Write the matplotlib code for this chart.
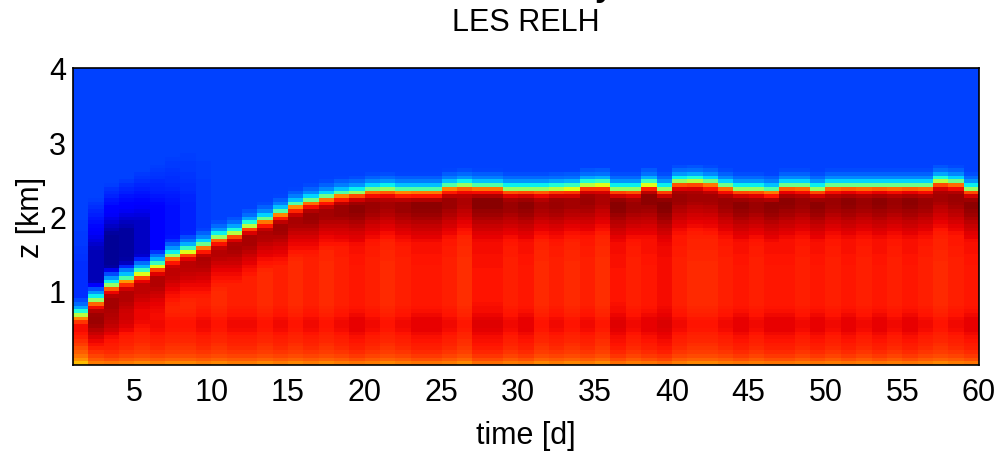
import numpy as np
import matplotlib
matplotlib.use('Agg')
import matplotlib.pyplot as plt

plt.rcParams['font.family'] = ['Liberation Sans', 'DejaVu Sans']

# time axis (days) and height grid (km)
day_edges = np.arange(1, 61)
z_edges = np.arange(0, 4.0001, 0.05)

# inversion height (km) for each day column
zi = [0.66, 0.85, 1.05, 1.13, 1.22, 1.32, 1.45, 1.52, 1.59, 1.70,
      1.76, 1.86, 1.94, 2.03, 2.13, 2.19, 2.24, 2.28, 2.30, 2.34,
      2.35, 2.33, 2.33, 2.33, 2.38, 2.40, 2.38, 2.38, 2.35, 2.35,
      2.35, 2.36, 2.37, 2.41, 2.42, 2.35, 2.35, 2.42, 2.35, 2.45,
      2.46, 2.44, 2.39, 2.35, 2.35, 2.33, 2.39, 2.39, 2.35, 2.39,
      2.39, 2.39, 2.39, 2.39, 2.39, 2.39, 2.46, 2.44, 2.35]

# minimum RH (%) of the dry layer just above the inversion
dry_min = [17, 5, 2, 3, 6, 11, 14, 16, 18] + [19] * 50

# column to column change of boundary layer RH (%)
bl_var = [-8, 0, 1, 0, -1, 0, -1, -1, 0, -1,
          0, 0, -1, 0, -1, 0, -1, 0, 1, 0,
          -1, 0, 1, 1, 0, -1.5, 1.5, 1.5, 0, 1,
          -1, 0, -1, 0, -1.5, 1.5, 0, 1, 2, 0,
          -1, -1, 0, 1, 0, 1, 1, 0, 1, 0,
          1, 0, 1, 0, 1, 0, -1, 0, 1]

# mean boundary layer profile: height (km) / RH (%)
bl_z = [0.0, 0.08, 0.15, 0.25, 0.4, 0.5, 0.6, 0.7, 0.85, 1.3, 1.7, 2.0, 4.0]
bl_rh = [76, 82, 85, 87, 88.5, 90, 90, 88.5, 87.5, 87.5, 88.5, 89.5, 89.5]

# cloud layer below the inversion: distance to inversion (km) / extra RH (%)
cld_d = [-0.7, -0.45, -0.25, -0.14, -0.08, -0.03, 0.0]
cld_rh = [0, 4, 8, 8, 3, -6, -14]

# inversion and dry free troposphere above it
inv_h = [0.0, 0.04, 0.09, 0.15, 0.25]
inv_rh = [64, 46, 32, 24]
ft_rh = 19
pocket_h = [0.05, 0.15, 0.3, 0.7, 1.0, 1.4]
pocket_w = [0, 0.7, 1, 1, 0.45, 0]

zc = 0.5 * (z_edges[1:] + z_edges[:-1])
rh = np.zeros((len(zc), len(zi)))
for j in range(len(zi)):
    d = zc - zi[j]
    ft = ft_rh - (ft_rh - dry_min[j]) * np.interp(d, pocket_h, pocket_w)
    below = np.interp(zc, bl_z, bl_rh) + bl_var[j] + np.interp(d, cld_d, cld_rh)
    above = np.empty_like(zc)
    for k in range(len(zc)):
        above[k] = np.interp(d[k], inv_h, inv_rh + [ft[k]])
    rh[:, j] = np.where(d < 0, below, above)

fig = plt.figure(figsize=(9.96, 4.6), dpi=100)
ax = fig.add_axes([73 / 996, 1 - 366 / 460, 906 / 996, 297 / 460])
ax.pcolormesh(day_edges, z_edges, rh, cmap='jet', vmin=0, vmax=100, shading='flat')
ax.set_xlim(1, 60)
ax.set_ylim(0, 4)
ax.set_xticks(range(5, 61, 5))
ax.set_yticks([1, 2, 3, 4])
ax.tick_params(length=0, labelsize=22)
ax.tick_params(axis='x', pad=9)
ax.tick_params(axis='y', pad=5)
for s in ax.spines.values():
    s.set_linewidth(1.2)
ax.set_xlabel('time [d]', fontsize=22, labelpad=9)
ax.set_ylabel('z [km]', fontsize=22, labelpad=2)
ax.set_title('LES RELH', fontsize=22, pad=27)
# top title is cut off by the figure edge, only the tail of a "y" shows
fig.text(604 / 996, 1.0 + 4 / 460, 'y', ha='center', va='baseline',
         fontsize=24, fontweight='bold')

fig.savefig('out.png', dpi=100)
